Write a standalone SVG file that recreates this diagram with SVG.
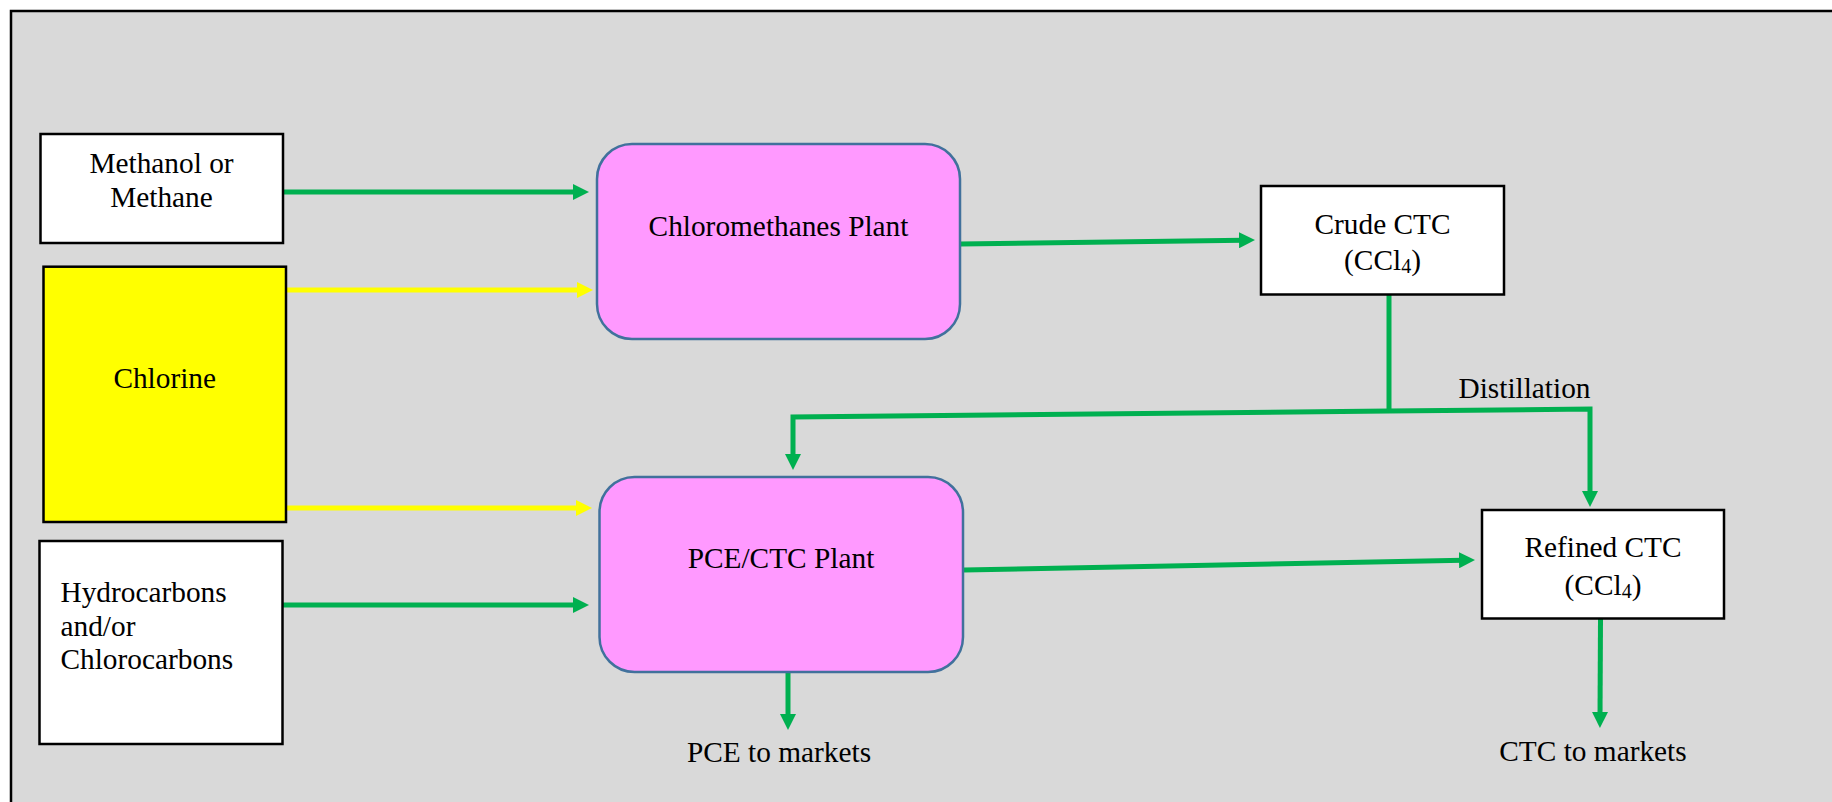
<svg xmlns="http://www.w3.org/2000/svg" width="1832" height="802" viewBox="0 0 1832 802">
<defs>
<style>
.t{font-family:"Liberation Serif","Times New Roman",serif;font-size:29.33px;fill:#000}
.box{fill:#fff;stroke:#000;stroke-width:2.5}
.plant{fill:#FF99FF;stroke:#41719C;stroke-width:2.5}
.g{fill:none;stroke:#00B050;stroke-width:5}
.y{fill:none;stroke:#FFFF00;stroke-width:5}
</style>
<marker id="ag" markerUnits="userSpaceOnUse" markerWidth="16" markerHeight="16" viewBox="0 0 16 16" refX="4" refY="8" orient="auto">
<path d="M0,0 L16,8 L0,16 z" fill="#00B050"/>
</marker>
<marker id="ay" markerUnits="userSpaceOnUse" markerWidth="16" markerHeight="16" viewBox="0 0 16 16" refX="4" refY="8" orient="auto">
<path d="M0,0 L16,8 L0,16 z" fill="#FFFF00"/>
</marker>
</defs>
<rect x="0" y="0" width="1832" height="802" fill="#fff"/>
<rect id="frame" x="11" y="11" width="1830" height="800" fill="#D9D9D9" stroke="#000" stroke-width="2.5"/>

<g id="connectors">
<path class="g" d="M284,192 L577,192" marker-end="url(#ag)"/>
<path class="y" d="M286,290 L581,290" marker-end="url(#ay)"/>
<path class="y" d="M286,508 L580,508" marker-end="url(#ay)"/>
<path class="g" d="M283,605 L577,605" marker-end="url(#ag)"/>
<path class="g" d="M960,244 L1243,240.2" marker-end="url(#ag)"/>
<path class="g" d="M1389,295 L1389,411"/>
<path class="g" d="M1389,411 L793,417 L793,458" marker-end="url(#ag)"/>
<path class="g" d="M1389,411 L1590,409 L1590,495" marker-end="url(#ag)"/>
<path class="g" d="M964,570 L1463,560.2" marker-end="url(#ag)"/>
<path class="g" d="M788,672 L788,718" marker-end="url(#ag)"/>
<path class="g" d="M1600.5,619 L1600,716" marker-end="url(#ag)"/>
</g>

<g id="methanol">
<rect class="box" x="40.5" y="134" width="242.5" height="109"/>
<text class="t" x="161.5" y="173" text-anchor="middle">Methanol or</text>
<text class="t" x="161.5" y="206.5" text-anchor="middle">Methane</text>
</g>

<g id="chlorine">
<rect x="43.5" y="266.7" width="242.5" height="255.3" fill="#FFFF00" stroke="#000" stroke-width="2.5"/>
<text class="t" x="164.7" y="388" text-anchor="middle">Chlorine</text>
</g>

<g id="hydrocarbons">
<rect class="box" x="39.5" y="541" width="243" height="203"/>
<text class="t" x="60.5" y="602.3">Hydrocarbons</text>
<text class="t" x="60.5" y="636">and/or</text>
<text class="t" x="60.5" y="669.3">Chlorocarbons</text>
</g>

<g id="chloromethanes">
<rect class="plant" x="597" y="144" width="363" height="195" rx="35" ry="35"/>
<text class="t" x="778.5" y="235.7" text-anchor="middle">Chloromethanes Plant</text>
</g>

<g id="pcectc">
<rect class="plant" x="599.5" y="477" width="363.5" height="195" rx="35" ry="35"/>
<text class="t" x="781" y="568" text-anchor="middle">PCE/CTC Plant</text>
</g>

<g id="crude">
<rect class="box" x="1261" y="186" width="243" height="108.5"/>
<text class="t" x="1382.5" y="234" text-anchor="middle">Crude CTC</text>
<text class="t" x="1382.5" y="270" text-anchor="middle">(CCl<tspan font-size="20" dy="3">4</tspan><tspan dy="-3">)</tspan></text>
</g>

<g id="refined">
<rect class="box" x="1482" y="510" width="242" height="108.5"/>
<text class="t" x="1603" y="556.7" text-anchor="middle">Refined CTC</text>
<text class="t" x="1603" y="595" text-anchor="middle">(CCl<tspan font-size="20" dy="3">4</tspan><tspan dy="-3">)</tspan></text>
</g>

<g id="labels">
<text class="t" x="1524.5" y="398" text-anchor="middle">Distillation</text>
<text class="t" x="779" y="761.7" text-anchor="middle">PCE to markets</text>
<text class="t" x="1593" y="761" text-anchor="middle">CTC to markets</text>
</g>
</svg>
